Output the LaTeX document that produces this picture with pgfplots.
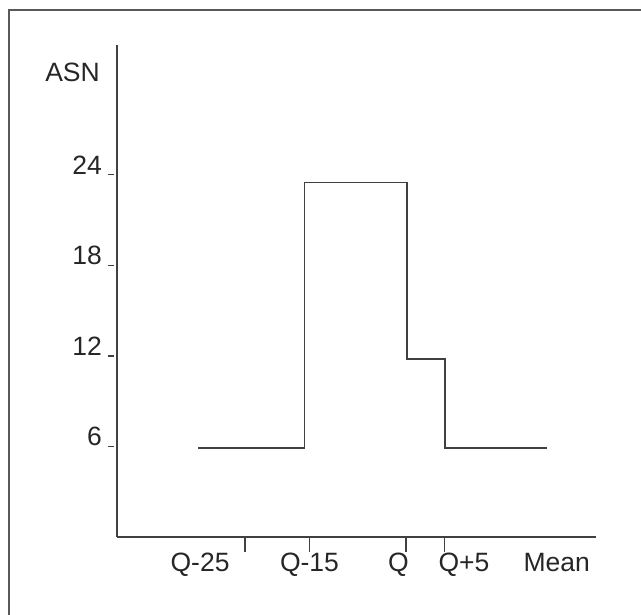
\documentclass[border=0pt]{standalone}
\usepackage{pgfplots}
\pgfplotsset{compat=1.18}
\usepackage{fontspec}
\setmainfont{Liberation Sans}
\definecolor{ln}{HTML}{404040}
\begin{document}
\begin{tikzpicture}
\path[use as bounding box] (0,0) rectangle (641pt,615pt);
\draw[line width=2pt, color=black!65] (9pt,0) -- (9pt,605pt) -- (641pt,605pt);
\begin{axis}[
  at={(117pt,78pt)}, anchor=south west,
  scale only axis, width=479pt, height=492pt,
  xmin=-44.9, xmax=29.5, ymin=0, ymax=32.6,
  axis x line*=bottom, axis y line*=left,
  axis line style={-, line width=1.3pt, color=ln},
  tick align=outside,
  major tick length=15pt,
  minor tick length=6pt,
  xtick={-25,-15,0,6}, xticklabels={},
  major x tick style={line width=1.3pt, color=ln},
  extra x ticks={-32,-15,-1.2,9,23.4},
  extra x tick labels={Q-25,Q-15,Q,Q+5,Mean},
  extra x tick style={major tick length=0pt, xticklabel style={anchor=north, inner sep=0pt, yshift=-16pt}},
  ytick={6,12,18,24},
  minor ytick={6,12,18,24},
  major y tick style={draw=none},
  minor y tick style={line width=1.3pt, color=ln, xshift=-3pt},
  yticklabel style={anchor=south east, inner sep=0pt},
  /pgf/number format/assume math mode=true,
  tick label style={font=\fontsize{26.5}{30}\selectfont, color=black!85},
  ylabel={ASN},
  ylabel style={rotate=-90, anchor=base east, inner sep=0pt, at={(axis description cs:-0.0355,0.925)}, font=\fontsize{26.5}{30}\selectfont, color=black!85},
  clip=false,
]
\addplot[const plot, line width=1.3pt, color=ln] coordinates {(-32.3,5.9) (-15.8,23.5) (0.15,11.8) (6.05,5.9) (21.9,5.9)};
\end{axis}
\end{tikzpicture}
\end{document}
